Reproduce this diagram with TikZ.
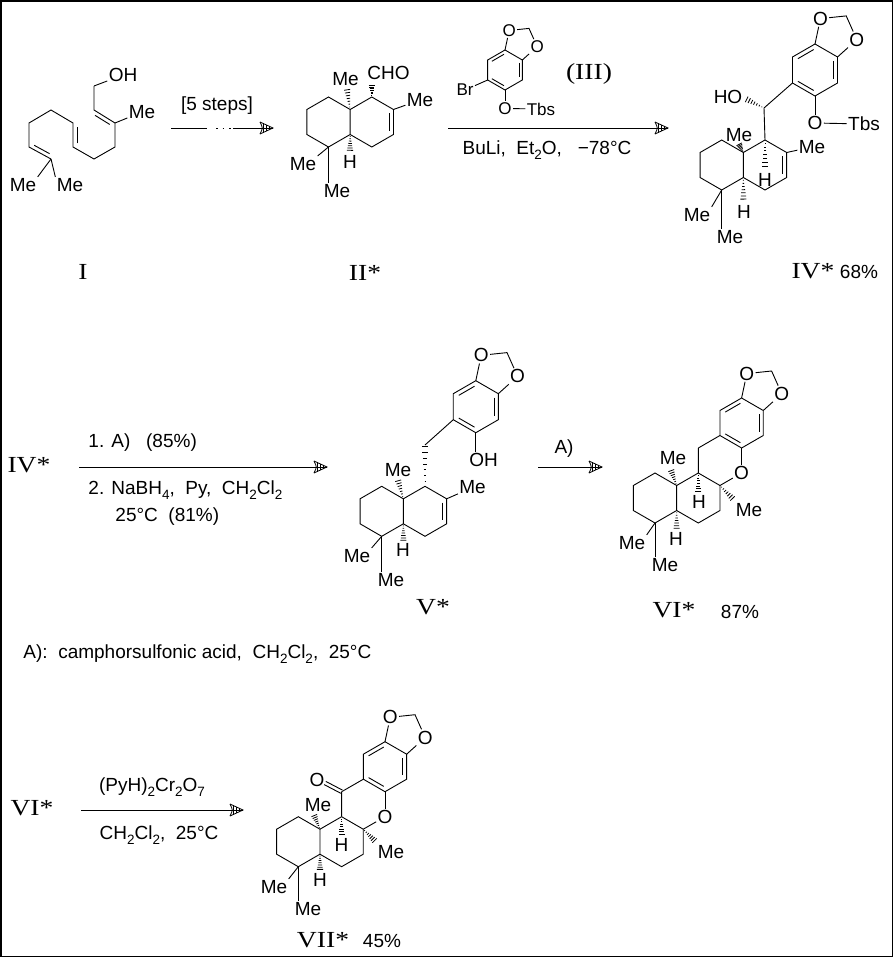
\documentclass[tikz,border=0pt]{standalone}
\usepackage{fontspec}
\newfontfamily\sansf{Liberation Sans}
\newfontfamily\romf[FakeStretch=1.2]{Liberation Serif}
\usetikzlibrary{calc,decorations.markings}

% subscript in formulas
\newcommand{\chs}[1]{\raisebox{-0.45ex}{\fontsize{13.5}{13.5}\selectfont #1}}
% inner line of a double bond
\newcommand{\dbl}[3]{\draw ($(#1)!.15!(#2)!4pt!#3:(#2)$) -- ($(#2)!.15!(#1)!4pt!-#3:(#1)$);}
% hashed wedge
\newcommand{\hashb}[2]{\foreach \hh in {0.12,0.26,...,1.0}{%
  \draw[line width=0.8pt] ($(#1)!\hh!(#2)!{\hh*3.2pt}!90:(#2)$) -- ($(#1)!\hh!(#2)!{\hh*3.2pt}!-90:(#2)$);}}
% two fused six rings
\newcommand{\decalin}{%
  \foreach \a [count=\i] in {-90,-30,30,90,150,210}{%
    \coordinate (l\i) at (\a:25);
    \coordinate (r\i) at ({43.3+25*cos(\a)},{25*sin(\a)});}
  \draw (l1) -- (l2) -- (l3) -- (l4) -- (l5) -- (l6) -- cycle;
  \draw (l2) -- (r1) -- (r2) -- (r3) -- (r4) -- (l3);}
% benzodioxole ring
\newcommand{\dioxring}{%
  \foreach \a [count=\i] in {-90,-30,30,90,150,210}
    \coordinate (v\i) at (\a:25);
  \draw (v1) -- (v2) -- (v3) -- (v4) -- (v5) -- (v6) -- cycle;
  \dbl{v6}{v1}{-90} \dbl{v2}{v3}{-90} \dbl{v4}{v5}{-90}
  \node[atom] (o1) at (5.2,-49.4) {O};
  \node[atom] (o2) at (40.2,-29.2) {O};
  \coordinate (ch2) at (30,-52);
  \draw (v1) -- (o1) -- (ch2) -- (o2) -- (v2);}

\begin{document}
\begin{tikzpicture}[x=1pt,y=-1pt,line width=0.9pt,
  atom/.style={font=\sansf\fontsize{19}{19}\selectfont,inner sep=1pt},
  satom/.style={font=\sansf\fontsize{17}{17}\selectfont,inner sep=1pt},
  cond/.style={font=\sansf\fontsize{19}{21}\selectfont,inner sep=0pt},
  cmpd/.style={font=\romf\fontsize{23}{23}\selectfont,inner sep=0pt},
  rxn/.style={postaction={decorate},decoration={markings,mark=at position 0.9999 with {
    \draw[line width=0.8pt] (-13pt,-6pt) -- (0pt,0pt) -- (-13pt,6pt);
    \draw[line width=0.8pt] (-13pt,-6pt) .. controls (-10pt,0pt) .. (-13pt,6pt);
    \draw[line width=0.8pt] (-4pt,-1.8pt) -- (-4pt,1.8pt) (-7pt,-3.2pt) -- (-7pt,3.2pt) (-10pt,-4.6pt) -- (-10pt,4.6pt);}}}]

\useasboundingbox (0,0) rectangle (894,958);
%draw frame
\draw[line width=1.5pt] (1,1) rectangle (892.5,956.5);

%compound I
\foreach \n/\x/\y in {1/94/86,2/94/110,3/115/123,4/115/147,5/94/159,6/73/147,7/73/123,8/51/110,9/29/123,10/29/147,11/51/159}
  \coordinate (c\n) at (\x,\y);
\draw (c1) -- (c2) -- (c3) -- (c4) -- (c5) -- (c6) -- (c7) -- (c8) -- (c9) -- (c10) -- (c11);
\dbl{c2}{c3}{-90} \dbl{c6}{c7}{-90} \dbl{c10}{c11}{90}
\node[atom] (ohI) at (123,75) {OH};
\node[atom] (meI) at (142,112) {Me};
\node[atom] (meIa) at (23,185) {Me};
\node[atom] (meIb) at (70,185) {Me};
\draw (c1) -- (ohI);
\draw (c3) -- (meI);
\draw (c11) -- (meIa.north east);
\draw (c11) -- (meIb.north west);
\node[cmpd] (nI) at (83,272) {I};

%arrow 1
\coordinate (a1s) at (171,128);
\coordinate (a1m) at (207,128);
\coordinate (a1d) at (216,128);
\coordinate (a1n) at (233,128);
\coordinate (a1e) at (273,128);
\draw (a1s) -- (a1m);
\draw[dash pattern=on 1.5pt off 5pt] (a1d) -- (a1n);
\draw[rxn] (a1n) -- (a1e);
\node[cond] (steps) at (217,106) {[5 steps]};

%compound II
\begin{scope}[shift={(328.5,122)}] \decalin \end{scope}
\dbl{r2}{r3}{-90}
\node[atom] (meIIa) at (345.5,79.5) {Me};
\node[atom,anchor=west] (choII) at (366,72.5) {CHO};
\node[atom] (meIIb) at (420,100) {Me};
\node[atom] (hII) at (350,162) {H};
\node[atom] (meIIc) at (303,164) {Me};
\node[atom] (meIId) at (337,191) {Me};
\coordinate (wIIa) at (347,89);
\coordinate (wIIb) at (371.8,85);
\coordinate (wIIc) at (350,151);
\hashb{l2}{wIIa} \hashb{r1}{wIIb} \hashb{l3}{wIIc}
\draw (r2) -- (meIIb);
\draw (l4) -- (meIIc.north east);
\draw (l4) -- (l4 |- meIId.north);
\node[cmpd] (nII) at (365,273) {II*};

%reagent III
\begin{scope}[shift={(505,70)},scale=0.8,atom/.append style={font=\sansf\fontsize{17}{17}\selectfont}] \dioxring \end{scope}
\node[satom] (brIII) at (465,90) {Br};
\node[satom] (oIII) at (505,108.5) {O};
\node[satom] (tbsIII) at (541,109) {Tbs};
\draw (v5) -- (brIII);
\draw (v4) -- (oIII);
\draw (oIII) -- (tbsIII);
\node[cmpd] (nIII) at (589,74) {(III)};

%arrow 2
\coordinate (a2s) at (448,128);
\coordinate (a2e) at (668,128);
\draw[rxn] (a2s) -- (a2e);
\node[cond] (c2) at (547,150) {BuLi,\ \ Et\chs{2}O,\ \ \ −78°C};

%compound IV
\begin{scope}[shift={(815,70)},scale=1.04] \dioxring \end{scope}
\coordinate (chIV) at (764,108);
\node[atom] (hoIV) at (728,97) {HO};
\node[atom] (oIV) at (815,123) {O};
\node[atom] (tbsIV) at (864,124) {Tbs};
\coordinate (wIVa) at (746,99);
\draw (v5) -- (chIV);
\hashb{chIV}{wIVa}
\draw (v4) -- (oIV);
\draw (oIV) -- (tbsIV);
\begin{scope}[shift={(721.7,165)}] \decalin \end{scope}
\draw (r1) -- (chIV);
\dbl{r2}{r3}{-90}
\node[atom] (meIVa) at (739,135) {Me};
\node[atom] (hIVa) at (765,180) {H};
\node[atom] (meIVb) at (812,147) {Me};
\node[atom] (hIVb) at (744,212) {H};
\node[atom] (meIVc) at (697,215) {Me};
\node[atom] (meIVd) at (730,237) {Me};
\coordinate (wIVb) at (739,144);
\coordinate (wIVc) at (765,167);
\coordinate (wIVd) at (743.4,200);
\hashb{l2}{wIVb} \hashb{r1}{wIVc} \hashb{l3}{wIVd}
\draw (r2) -- (meIVb);
\draw (l4) -- (meIVc.north east);
\draw (l4) -- (l4 |- meIVd.north);
\node[cmpd] (nIV) at (813,271) {IV*};
\node[cond] (yIV) at (859,272) {68\%};

%arrow 3
\node[cmpd] (nIVb) at (29,465) {IV*};
\coordinate (a3s) at (79,467);
\coordinate (a3e) at (327,467);
\draw[rxn] (a3s) -- (a3e);
\node[cond,anchor=west] (c3a) at (88,443) {1. A)\ \ \ (85\%)};
\node[cond,anchor=west] (c3b) at (88,490) {2. NaBH\chs{4},\ \ Py,\ \ CH\chs{2}Cl\chs{2}};
\node[cond,anchor=west] (c3c) at (115,517) {25°C\ \ (81\%)};

%compound V
\begin{scope}[shift={(475.8,406.7)},scale=1.04] \dioxring \end{scope}
\coordinate (chV) at (425,445);
\node[atom] (ohV) at (483.5,460) {OH};
\draw (v5) -- (chV);
\draw (v4) -- (v4 |- ohV.north);
\begin{scope}[shift={(381.7,511.3)}] \decalin \end{scope}
\hashb{r1}{chV}
\dbl{r2}{r3}{-90}
\node[atom] (meVa) at (398,470) {Me};
\node[atom] (meVb) at (472.5,487.5) {Me};
\node[atom] (hV) at (403,550) {H};
\node[atom] (meVc) at (357,556) {Me};
\node[atom] (meVd) at (391,580) {Me};
\coordinate (wVa) at (398,480);
\coordinate (wVb) at (403.4,541);
\hashb{l2}{wVa} \hashb{l3}{wVb}
\draw (r2) -- (meVb);
\draw (l4) -- (meVc.north east);
\draw (l4) -- (l4 |- meVd.north);
\node[cmpd] (nV) at (433,607) {V*};

%arrow 4
\coordinate (a4s) at (538,467);
\coordinate (a4e) at (602,467);
\draw[rxn] (a4s) -- (a4e);
\node[cond] (c4) at (564,449) {A)};

%compound VI
\begin{scope}[shift={(741.6,423)}] \dioxring \end{scope}
\coordinate (ch2VI) at (698.35,448);
\node[atom] (oVI) at (741.6,473) {O};
\draw (v5) -- (ch2VI);
\draw (v4) -- (oVI);
\begin{scope}[shift={(655,498)}] \decalin \end{scope}
\draw (r1) -- (ch2VI);
\draw (r2) -- (oVI);
\node[atom] (meVIa) at (673,458) {Me};
\node[atom] (hVIa) at (699,502) {H};
\node[atom] (meVIb) at (749,510) {Me};
\node[atom] (hVIb) at (676,539) {H};
\node[atom] (meVIc) at (632,543) {Me};
\node[atom] (meVId) at (665,565) {Me};
\coordinate (wVIa) at (671,470);
\coordinate (wVIb) at (698.3,492);
\coordinate (wVIc) at (733,499);
\coordinate (wVId) at (676.6,529);
\hashb{l2}{wVIa} \hashb{r1}{wVIb} \hashb{r2}{wVIc} \hashb{l3}{wVId}
\draw (l4) -- (meVIc.north east);
\draw (l4) -- (l4 |- meVId.north);
\node[cmpd] (nVI) at (674,610) {VI*};
\node[cond] (yVI) at (740,612) {87\%};

%footnote
\node[cond,anchor=west] (note) at (23,654) {A):\ \ camphorsulfonic acid,\ \ CH\chs{2}Cl\chs{2},\ \ 25°C};

%arrow 5
\node[cmpd] (nVIb) at (32,808) {VI*};
\coordinate (a5s) at (81,810);
\coordinate (a5e) at (243,810);
\draw[rxn] (a5s) -- (a5e);
\node[cond] (c5a) at (152,787) {(PyH)\chs{2}Cr\chs{2}O\chs{7}};
\node[cond] (c5b) at (159,835) {CH\chs{2}Cl\chs{2},\ \ 25°C};

%compound VII
\begin{scope}[shift={(385,766.7)}] \dioxring \end{scope}
\coordinate (coVII) at (341.65,791.7);
\coordinate (okend) at (325,783);
\node[atom] (oVII) at (385,816.7) {O};
\node[atom] (okVII) at (317,780) {O};
\draw (v5) -- (coVII);
\draw (v4) -- (oVII);
\draw ($(coVII)!1.8pt!90:(okend)$) -- ($(okend)!1.8pt!-90:(coVII)$);
\draw ($(coVII)!1.8pt!-90:(okend)$) -- ($(okend)!1.8pt!90:(coVII)$);
\begin{scope}[shift={(298.3,841.7)}] \decalin \end{scope}
\draw (r1) -- (coVII);
\draw (r2) -- (oVII);
\node[atom] (meVIIa) at (318,805) {Me};
\node[atom] (hVIIa) at (341.5,845) {H};
\node[atom] (meVIIb) at (391,852) {Me};
\node[atom] (hVIIb) at (320,880) {H};
\node[atom] (meVIIc) at (274,887) {Me};
\node[atom] (meVIId) at (308,909) {Me};
\coordinate (wVIIa) at (314,815);
\coordinate (wVIIb) at (341.6,835);
\coordinate (wVIIc) at (375,841);
\coordinate (wVIId) at (320,870);
\hashb{l2}{wVIIa} \hashb{r1}{wVIIb} \hashb{r2}{wVIIc} \hashb{l3}{wVIId}
\draw (l4) -- (meVIIc.north east);
\draw (l4) -- (l4 |- meVIId.north);
\node[cmpd] (nVII) at (323,940) {VII*};
\node[cond] (yVII) at (382,941) {45\%};
\end{tikzpicture}
\end{document}
